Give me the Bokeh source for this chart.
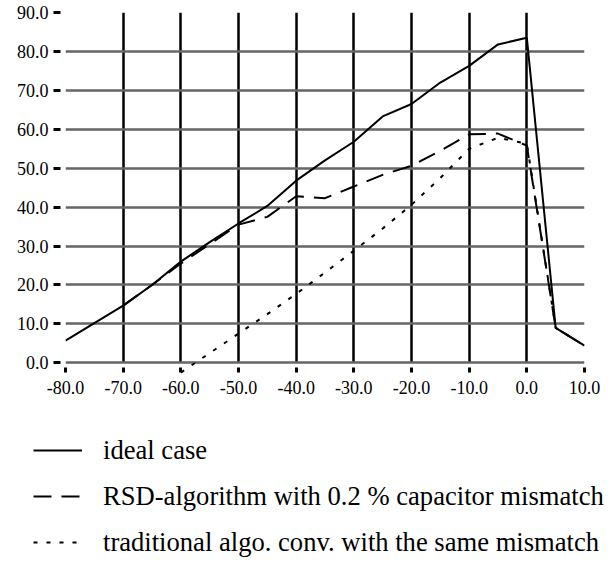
from bokeh.plotting import figure
from bokeh.layouts import column
from bokeh.models import (FixedTicker, PrintfTickFormatter, Range1d, Legend, LegendItem)
from bokeh.embed import file_html
from bokeh.resources import INLINE

# ---- data ----
x_ideal = [-80, -75, -70, -65, -60, -55, -50, -45, -40, -35, -30, -25, -20, -15, -10, -5, 0, 5, 10]
y_ideal = [5.7, 10.2, 14.7, 20.0, 26.0, 31.0, 35.8, 40.3, 46.8, 52.0, 56.8, 63.3, 66.5, 72.0, 76.3, 81.8, 83.5, 9.0, 4.4]

x_rsd = [-70, -65, -60, -55, -50, -45, -40, -35, -30, -25, -20, -15, -10, -5, 0, 5, 10]
y_rsd = [14.7, 20.0, 25.5, 30.5, 35.5, 37.5, 42.8, 42.3, 45.3, 48.3, 50.6, 54.5, 58.7, 58.9, 55.8, 9.0, 4.4]

x_trad = [-60, -55, -50, -45, -40, -35, -30, -25, -20, -15, -10, -5, 0, 5, 10]
y_trad = [-2.5, 2.5, 7.5, 12.5, 17.7, 23.2, 28.8, 34.5, 40.6, 47.5, 55.0, 57.8, 56.3, 9.0, 4.4]

x_ticks = [-80, -70, -60, -50, -40, -30, -20, -10, 0, 10]
y_ticks = [0, 10, 20, 30, 40, 50, 60, 70, 80, 90]

labels = ["ideal case",
          "RSD-algorithm with 0.2 % capacitor mismatch",
          "traditional algo. conv. with the same mismatch"]

FONT = "Liberation Serif"
STYLES = [dict(line_color="black", line_width=2),
          dict(line_color="black", line_width=2, line_dash="18 10"),
          dict(line_color="black", line_width=2, line_dash="4 9")]
SERIES = [(x_ideal, y_ideal), (x_rsd, y_rsd), (x_trad, y_trad)]

p = figure(width=613, height=410, output_backend="svg", toolbar_location=None,
           x_range=Range1d(-80, 10), y_range=Range1d(-3, 90),
           min_border_left=65, min_border_right=29, min_border_top=12, min_border_bottom=36)
p.outline_line_color = None
p.background_fill_color = "white"
p.border_fill_color = "white"

# axes
p.xaxis.ticker = FixedTicker(ticks=x_ticks)
p.yaxis.ticker = FixedTicker(ticks=y_ticks)
p.xaxis.formatter = PrintfTickFormatter(format="%.1f")
p.yaxis.formatter = PrintfTickFormatter(format="%.1f")
for ax in (p.xaxis[0], p.yaxis[0]):
    ax.axis_line_color = None
    ax.minor_tick_line_color = None
    ax.major_tick_line_color = "black"
    ax.major_tick_line_width = 3
    ax.major_label_text_font = FONT
    ax.major_label_text_font_size = "18px"
    ax.major_label_text_color = "black"
p.yaxis.major_tick_in = -5
p.yaxis.major_tick_out = 12
p.yaxis.major_label_standoff = 5
p.xaxis.major_tick_in = 7
p.xaxis.major_tick_out = -2
p.xaxis.major_label_standoff = 6

# grids
p.xgrid.ticker = FixedTicker(ticks=x_ticks)
p.xgrid.bounds = (-80, 10)
p.xgrid.cross_bounds = (0, 90)
p.xgrid.grid_line_color = "black"
p.xgrid.grid_line_width = 2.5
p.xgrid.grid_line_alpha = 1

p.ygrid.ticker = FixedTicker(ticks=y_ticks)
p.ygrid.bounds = (0, 90)
p.ygrid.grid_line_color = "#666666"
p.ygrid.grid_line_width = 2.5
p.ygrid.grid_line_alpha = 1

# series
rs = [p.line(x, y, **s) for (x, y), s in zip(SERIES, STYLES)]

# legend panel (separate figure below the chart; same series and styles,
# its ranges keep the lines themselves out of view so only the legend shows)
pl = figure(width=613, height=157, output_backend="svg", toolbar_location=None,
            x_axis_type=None, y_axis_type=None,
            x_range=Range1d(1000, 1001), y_range=Range1d(1000, 1001),
            min_border_left=0, min_border_right=0, min_border_top=0, min_border_bottom=0)
pl.frame_align = False
pl.outline_line_color = None
pl.xgrid.visible = False
pl.ygrid.visible = False
lr = [pl.line(x, y, **s) for (x, y), s in zip(SERIES, STYLES)]

legend = Legend(items=[LegendItem(label=lab, renderers=[r]) for lab, r in zip(labels, lr)],
                location=(33, 4), orientation="vertical",
                padding=0, margin=0, spacing=4,
                label_height=42, glyph_height=20, glyph_width=49, label_standoff=21,
                border_line_alpha=0, background_fill_alpha=0,
                label_text_font=FONT, label_text_font_size="26.6px", label_text_color="black")
pl.add_layout(legend, "center")

layout = column(p, pl, spacing=0)
open("out.html", "w").write(file_html(layout, INLINE))
